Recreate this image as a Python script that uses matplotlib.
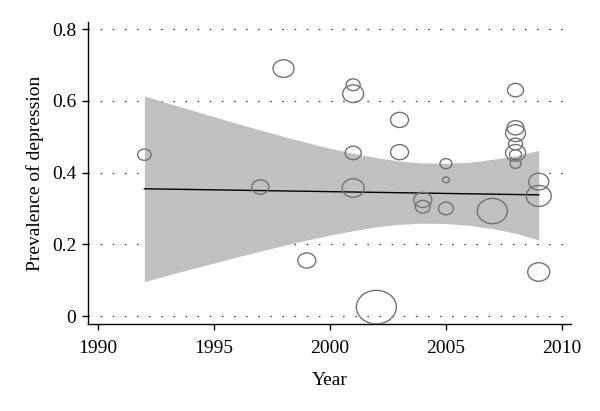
import numpy as np
import matplotlib
matplotlib.use('Agg')
import matplotlib.pyplot as plt
from matplotlib.path import Path
from matplotlib.markers import MarkerStyle
from matplotlib.transforms import Affine2D

# study points: year, prevalence, study weight (bubble width)
years = [1992, 1997, 1998, 1999, 2001, 2001, 2001, 2001, 2002, 2003, 2003,
         2004, 2004, 2005, 2005, 2005, 2007, 2008, 2008, 2008, 2008, 2008,
         2008, 2008, 2009, 2009, 2009]
prevalence = [0.45, 0.36, 0.69, 0.155, 0.645, 0.62, 0.455, 0.357, 0.025, 0.547,
              0.457, 0.324, 0.305, 0.425, 0.38, 0.30, 0.293, 0.63, 0.525, 0.51,
              0.48, 0.455, 0.45, 0.425, 0.375, 0.335, 0.123]
weight = [13.5, 17, 21, 18, 14, 21, 16, 22, 40, 18, 18, 18, 15, 12, 7, 15, 30,
          16, 17, 20, 14, 20, 12, 11, 20, 25, 22]

# meta-regression fit and 95% band
fit_years = [1992, 1993, 1994, 1995, 1996, 1997, 1998, 1999, 2000, 2001, 2002,
             2003, 2004, 2005, 2006, 2007, 2008, 2009]
fit = [0.355, 0.354, 0.353, 0.352, 0.351, 0.350, 0.349, 0.348, 0.347, 0.346,
       0.345, 0.344, 0.343, 0.342, 0.341, 0.340, 0.339, 0.338]
upper = [0.614, 0.594, 0.575, 0.556, 0.537, 0.519, 0.501, 0.484, 0.468, 0.454,
         0.442, 0.432, 0.427, 0.426, 0.429, 0.437, 0.447, 0.462]
lower = [0.096, 0.114, 0.131, 0.148, 0.165, 0.181, 0.197, 0.212, 0.226, 0.238,
         0.249, 0.256, 0.259, 0.258, 0.253, 0.244, 0.231, 0.212]

plt.rcParams['font.family'] = ['Liberation Serif', 'DejaVu Serif']

fig = plt.figure(figsize=(6, 4.11), dpi=100)
ax = fig.add_axes([0.1467, 0.2117, 0.8053, 0.7348])

# slightly flattened circle marker, like the original
circ = Path.unit_circle()
ell = circ.transformed(Affine2D().scale(1.0, 0.84))
marker = MarkerStyle(ell)

ax.fill_between(fit_years, lower, upper, color='#c0c0c0', lw=0, zorder=2)
ax.plot(fit_years, fit, color='black', lw=1.0, zorder=3)
sizes = [(w * 0.72) ** 2 for w in weight]
ax.scatter(years, prevalence, s=sizes, marker=marker, facecolors='none',
           edgecolors='#727272', linewidths=1.0, zorder=4)

ax.set_xlim(1989.57, 2010.4)
ax.set_ylim(-0.022, 0.82)
ax.set_xticks([1990, 1995, 2000, 2005, 2010])
ax.set_yticks([0, 0.2, 0.4, 0.6, 0.8])
ax.set_yticklabels(['0', '0.2', '0.4', '0.6', '0.8'])
ax.yaxis.grid(True, color='#333333', linestyle=(0, (1.2, 8.5)), lw=0.9)
ax.set_axisbelow(True)

for s in ['top', 'right']:
    ax.spines[s].set_visible(False)
for s in ['left', 'bottom']:
    ax.spines[s].set_linewidth(1.0)
ax.tick_params(direction='out', length=4.5, width=1.0, labelsize=14)
ax.tick_params(axis='x', pad=7)
ax.tick_params(axis='y', pad=4)

ax.set_xlabel('Year', fontsize=14, labelpad=10.5)
ax.set_ylabel('Prevalence of depression', fontsize=14, labelpad=6)

fig.savefig('out.png', dpi=100)
